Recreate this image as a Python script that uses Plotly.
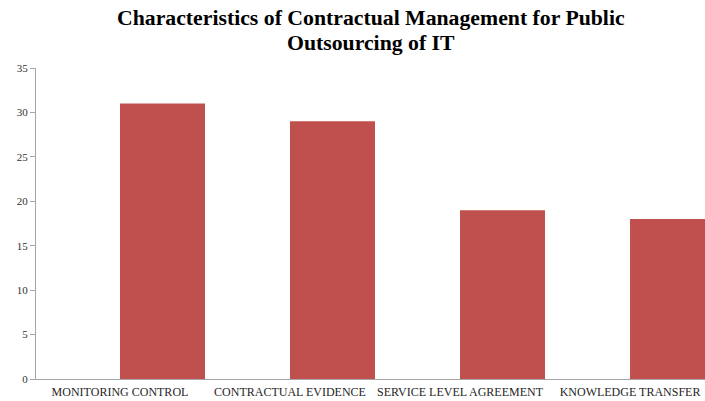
import plotly.graph_objects as go

categories = ["MONITORING CONTROL", "CONTRACTUAL EVIDENCE", "SERVICE LEVEL AGREEMENT", "KNOWLEDGE TRANSFER"]
values = [31, 29, 19, 18]
y_ticks = [0, 5, 10, 15, 20, 25, 30, 35]
title_lines = ["Characteristics of Contractual Management for Public", "Outsourcing of IT"]

positions = list(range(len(categories)))

fig = go.Figure(
    go.Bar(
        x=positions,
        y=values,
        width=0.5,
        offset=0,
        marker=dict(color="#C0504D", line=dict(width=0)),
        hoverinfo="x+y",
    )
)

PLOT_TOP, PLOT_BOTTOM = 68, 379
line_centers_px = [18.5, 43]
for txt, ypx in zip(title_lines, line_centers_px):
    fig.add_annotation(
        text="<b>" + txt + "</b>",
        x=0.5,
        xref="paper",
        xanchor="center",
        y=(PLOT_BOTTOM - ypx) / (PLOT_BOTTOM - PLOT_TOP),
        yref="paper",
        yanchor="middle",
        showarrow=False,
        font=dict(family="Liberation Serif, Times New Roman, serif", size=21.75, color="#000000"),
    )

fig.update_layout(
    width=705,
    height=401,
    margin=dict(l=36, r=0, t=PLOT_TOP, b=401 - PLOT_BOTTOM),
    paper_bgcolor="white",
    plot_bgcolor="white",
    showlegend=False,
    font=dict(family="Liberation Serif, Times New Roman, serif"),
)

fig.update_xaxes(
    range=[-0.494, 3.441],
    tickmode="array",
    tickvals=positions,
    ticktext=categories,
    showgrid=False,
    zeroline=False,
    showline=True,
    linecolor="#A6A6A6",
    linewidth=1,
    ticks="",
    ticklabelstandoff=2,
    tickfont=dict(size=12, color="#262626"),
    fixedrange=True,
)

fig.update_yaxes(
    range=[0, 35],
    tickmode="array",
    tickvals=y_ticks,
    ticktext=[str(v) for v in y_ticks],
    showgrid=False,
    zeroline=False,
    showline=True,
    linecolor="#A6A6A6",
    linewidth=1,
    ticks="outside",
    ticklen=5,
    tickcolor="#A6A6A6",
    tickfont=dict(size=11, color="#333333"),
    fixedrange=True,
)

fig.write_html(
    "out.html",
    config={"displayModeBar": False},
    post_script="document.body.style.margin='0';document.body.style.overflow='hidden';",
)
